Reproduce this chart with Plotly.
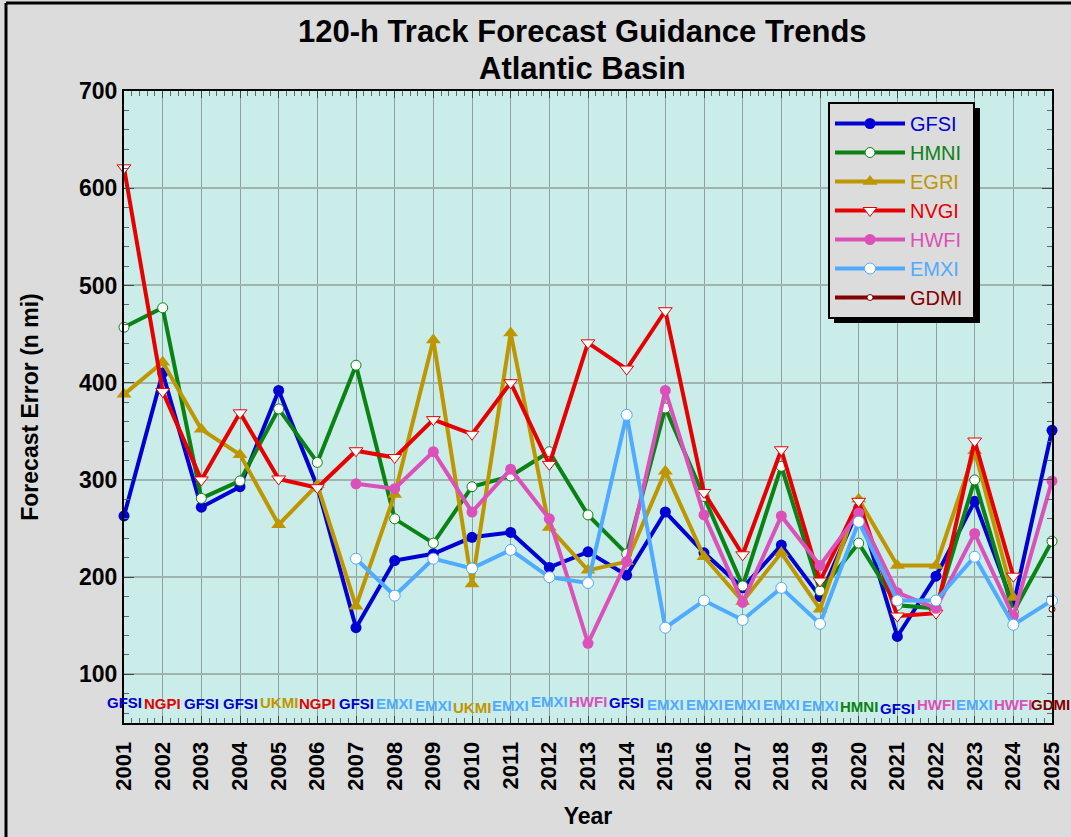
import plotly.graph_objects as go

years = list(range(2001, 2026))

gfsi = [263, 410, 272, 293, 392, 293, 148, 217, 224, 241, 246, 210, 226, 202, 267, 225, 189, 233, 180, 271, 139, 201, 278, 171, 351]
hmni = [457, 477, 281, 299, 373, 318, 418, 260, 235, 293, 304, 329, 264, 224, 374, 283, 191, 314, 186, 235, 171, 168, 300, 164, 237]
egri = [388, 421, 352, 326, 254, 295, 170, 285, 444, 193, 451, 251, 207, 216, 309, 221, 175, 225, 167, 280, 212, 212, 330, 179, None]
nvgi = [621, 391, 300, 369, 301, 292, 330, 323, 362, 347, 400, 316, 441, 414, 474, 287, 223, 331, 196, 278, 160, 163, 340, 201, None]
hwfi = [None] * 6 + [296, 291, 329, 267, 311, 260, 132, 216, 392, 264, 174, 263, 212, 266, 184, 168, 245, 160, 299]
emxi = [None] * 6 + [219, 181, 219, 209, 228, 200, 194, 367, 148, 176, 156, 189, 152, 257, 176, 176, 221, 151, 176]
gdmi = [None] * 24 + [167]

best_model = ["GFSI", "NGPI", "GFSI", "GFSI", "UKMI", "NGPI", "GFSI", "EMXI", "EMXI", "UKMI",
              "EMXI", "EMXI", "HWFI", "GFSI", "EMXI", "EMXI", "EMXI", "EMXI", "EMXI", "HMNI",
              "GFSI", "HWFI", "EMXI", "HWFI", "GDMI"]
label_dy = [1, 0, 0, 0, 1, 0, 0, 0, -2, -4, -2, 2, 2, 1, -1, -1, -1, -1, -2, -3, -5, -1, -1, -1, -1]

title_lines = ["120-h Track Forecast Guidance Trends", "Atlantic Basin"]

C = {
    "GFSI": "#0000D2", "HMNI": "#0A8214", "EGRI": "#BE9600", "NVGI": "#E60000",
    "HWFI": "#DC50B9", "EMXI": "#50AAFF", "GDMI": "#820000",
    "NGPI": "#E60000", "UKMI": "#BE9600",
}

series = [
    ("GFSI", gfsi, dict(symbol="circle", size=11, color=C["GFSI"])),
    ("HMNI", hmni, dict(symbol="circle", size=10, color="white", line=dict(color=C["HMNI"], width=1))),
    ("EGRI", egri, dict(symbol="triangle-up", size=13, color=C["EGRI"])),
    ("NVGI", nvgi, dict(symbol="triangle-down", size=12, color="white", line=dict(color=C["NVGI"], width=1))),
    ("HWFI", hwfi, dict(symbol="circle", size=11, color=C["HWFI"])),
    ("EMXI", emxi, dict(symbol="circle", size=11, color="white", line=dict(color=C["EMXI"], width=1))),
    ("GDMI", gdmi, dict(symbol="circle", size=6, color="white", line=dict(color=C["GDMI"], width=1))),
]

FONT = "Liberation Sans, Arial, sans-serif"
PAD = "\u00a0"
fig = go.Figure()
for name, vals, mk in series:
    fig.add_trace(go.Scatter(
        x=years, y=vals, mode="lines+markers",
        name=f'<span style="color:{C[name]}">{name}</span>{PAD}',
        line=dict(color=C[name], width=4), marker=mk, cliponaxis=False,
    ))

for yr, lab, dy in zip(years, best_model, label_dy):
    fig.add_annotation(x=yr, y=70, text=f"<b>{lab}</b>", showarrow=False,
                       font=dict(family=FONT, size=15, color=C[lab]),
                       xanchor="center", yanchor="middle", yshift=dy,
                       xshift=-2 if yr == years[-1] else 0)

L, R, T, B = 124, 19, 91, 114
W, H = 1071, 837
pw, ph = W - L - R, H - T - B
def px(xp):
    return (xp - L) / pw
def py(yp):
    return (H - B - yp) / ph

# title lines
for txt, yc in zip(title_lines, [32, 68]):
    fig.add_annotation(xref="paper", yref="paper", x=px(582), y=py(yc), text=f"<b>{txt}</b>",
                       showarrow=False, xanchor="center", yanchor="middle",
                       font=dict(family=FONT, size=31, color="black"))

# legend shadow
lx0, ly0, lx1, ly1 = 828, 102, 975, 318
fig.add_shape(type="rect", xref="paper", yref="paper",
              x0=px(lx0 + 6), x1=px(lx1 + 5), y0=py(ly1 + 5), y1=py(ly0 + 6),
              fillcolor="black", line=dict(width=0), layer="above")
# outer frame (left and top edges visible)
fig.add_shape(type="line", xref="paper", yref="paper", x0=px(6), x1=px(6), y0=py(H + 5), y1=py(3),
              line=dict(color="black", width=3))
fig.add_shape(type="line", xref="paper", yref="paper", x0=px(6), x1=px(W + 5), y0=py(3), y1=py(3),
              line=dict(color="black", width=3))

fig.update_layout(
    width=W, height=H,
    margin=dict(l=L, r=R, t=T, b=B, autoexpand=False),
    paper_bgcolor="#DCDCDC", plot_bgcolor="#CBEDE9",
    font=dict(family=FONT, color="black"),
    legend=dict(x=px(lx0), y=py(ly0), xanchor="left", yanchor="top",
                bgcolor="#DCDCDC", bordercolor="black", borderwidth=2,
                font=dict(family=FONT, size=20), tracegroupgap=0, itemwidth=70),
    showlegend=True,
)
fig.update_xaxes(
    range=[2001, 2025], tickvals=years, ticktext=[str(y) for y in years],
    tickangle=-90, tickfont=dict(family=FONT, size=22, color="black", weight="bold"),
    ticks="inside", ticklen=7, tickcolor="#444", mirror="allticks",
    showline=True, linecolor="black", linewidth=2,
    showgrid=True, gridcolor="#8FA19E", gridwidth=1,
    minor=dict(dtick=0.2, ticks="inside", ticklen=5, tickcolor="#666", showgrid=False),
    title=dict(text="<b>Year</b>", font=dict(family=FONT, size=23), standoff=18),
    zeroline=False, ticklabelstandoff=8,
)
fig.update_yaxes(
    range=[50, 700], tickvals=[100, 200, 300, 400, 500, 600, 700],
    tickfont=dict(family=FONT, size=23, color="black", weight="bold"),
    ticks="inside", ticklen=10, tickcolor="#444", mirror="allticks",
    showline=True, linecolor="black", linewidth=2,
    showgrid=True, gridcolor="#9FB3AF", gridwidth=1.5,
    minor=dict(dtick=20, ticks="inside", ticklen=5, tickcolor="#666", showgrid=False),
    title=dict(text="<b>Forecast Error (n mi)</b>", font=dict(family=FONT, size=23), standoff=34),
    zeroline=False,
)

fig.write_html("out.html", config={"displayModeBar": False},
               post_script="document.body.style.margin='0';document.body.style.background='#DCDCDC';")
